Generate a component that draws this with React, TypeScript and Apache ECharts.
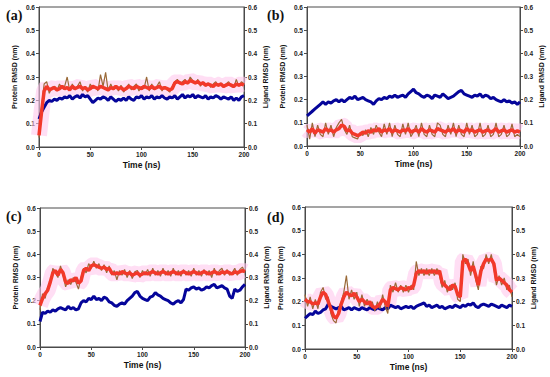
import React, { useEffect, useRef } from "react";
import * as echarts from "echarts";

const TIME_STEP = 2.5;
const PANEL_LABELS = ["(a)", "(b)", "(c)", "(d)"];
const X_TICKS = [0, 50, 100, 150, 200];

const A_PROT = [0.12,0.15,0.17,0.19,0.20,0.195,0.205,0.20,0.21,0.205,
 0.215,0.21,0.22,0.205,0.215,0.22,0.21,0.225,0.215,0.22,
 0.205,0.19,0.20,0.21,0.205,0.215,0.21,0.20,0.215,0.205,
 0.195,0.205,0.20,0.21,0.20,0.215,0.205,0.20,0.215,0.21,
 0.22,0.205,0.215,0.21,0.22,0.205,0.215,0.21,0.22,0.21,
 0.205,0.215,0.21,0.22,0.205,0.215,0.225,0.21,0.22,0.215,
 0.225,0.21,0.22,0.215,0.21,0.22,0.205,0.215,0.21,0.22,
 0.215,0.205,0.215,0.21,0.205,0.215,0.20,0.21,0.20,0.215,
 0.22];
const A_LIG = [0.05,0.15,0.24,0.26,0.245,0.25,0.255,0.245,0.25,0.26,
 0.25,0.255,0.245,0.26,0.25,0.255,0.26,0.25,0.255,0.245,
 0.25,0.26,0.255,0.25,0.26,0.255,0.25,0.245,0.255,0.25,
 0.26,0.25,0.255,0.245,0.25,0.26,0.255,0.25,0.26,0.255,
 0.25,0.26,0.255,0.25,0.26,0.25,0.255,0.26,0.25,0.255,
 0.25,0.245,0.25,0.275,0.28,0.275,0.27,0.28,0.275,0.285,
 0.28,0.275,0.28,0.27,0.275,0.265,0.27,0.265,0.26,0.27,
 0.265,0.27,0.26,0.265,0.27,0.265,0.26,0.27,0.265,0.27,
 0.265];
const A_LIG_RAW = [0.04,0.17,0.27,0.28,0.23,0.255,0.26,0.24,0.27,0.25,
 0.26,0.30,0.24,0.27,0.245,0.26,0.28,0.24,0.26,0.235,
 0.27,0.25,0.26,0.24,0.31,0.26,0.32,0.24,0.27,0.245,
 0.26,0.24,0.265,0.235,0.25,0.27,0.245,0.26,0.27,0.24,
 0.26,0.25,0.30,0.24,0.27,0.245,0.26,0.28,0.24,0.26,
 0.245,0.235,0.26,0.28,0.29,0.27,0.28,0.29,0.27,0.30,
 0.285,0.27,0.29,0.26,0.28,0.26,0.275,0.255,0.27,0.28,
 0.26,0.275,0.255,0.27,0.28,0.26,0.255,0.29,0.26,0.28,
 0.27];

const B_PROT = [0.13,0.14,0.15,0.16,0.17,0.18,0.19,0.18,0.19,0.185,
 0.195,0.20,0.19,0.20,0.19,0.20,0.21,0.205,0.215,0.20,
 0.205,0.21,0.20,0.195,0.19,0.18,0.195,0.205,0.20,0.21,
 0.205,0.215,0.21,0.22,0.21,0.215,0.22,0.21,0.225,0.235,
 0.245,0.23,0.225,0.215,0.21,0.22,0.215,0.205,0.22,0.215,
 0.21,0.225,0.215,0.205,0.21,0.215,0.225,0.235,0.24,0.225,
 0.22,0.215,0.21,0.22,0.215,0.225,0.21,0.22,0.215,0.205,
 0.21,0.20,0.195,0.19,0.20,0.19,0.195,0.185,0.19,0.18,
 0.19];
const B_LIG = [0.07,0.06,0.075,0.055,0.07,0.065,0.06,0.075,0.065,0.07,
 0.06,0.07,0.075,0.09,0.085,0.065,0.07,0.055,0.05,0.045,
 0.05,0.06,0.055,0.065,0.06,0.07,0.065,0.075,0.06,0.07,
 0.065,0.075,0.06,0.07,0.065,0.06,0.07,0.065,0.075,0.06,
 0.065,0.07,0.06,0.075,0.065,0.06,0.07,0.065,0.06,0.075,
 0.07,0.065,0.06,0.07,0.065,0.075,0.06,0.07,0.065,0.06,
 0.075,0.065,0.07,0.06,0.065,0.07,0.06,0.065,0.07,0.06,
 0.065,0.075,0.06,0.065,0.07,0.06,0.065,0.07,0.06,0.065,
 0.06];
const B_LIG_RAW = [0.09,0.03,0.10,0.04,0.09,0.05,0.04,0.10,0.05,0.09,
 0.04,0.08,0.10,0.115,0.07,0.05,0.09,0.04,0.035,0.03,
 0.06,0.045,0.07,0.04,0.08,0.05,0.09,0.06,0.04,0.095,
 0.05,0.10,0.04,0.09,0.05,0.04,0.095,0.05,0.10,0.04,
 0.06,0.09,0.04,0.10,0.05,0.04,0.09,0.05,0.04,0.10,
 0.09,0.05,0.04,0.09,0.05,0.10,0.04,0.09,0.05,0.04,
 0.10,0.05,0.09,0.04,0.05,0.10,0.04,0.05,0.09,0.04,
 0.05,0.10,0.04,0.05,0.09,0.04,0.05,0.095,0.04,0.05,
 0.04];

const C_PROT = [0.11,0.15,0.145,0.155,0.15,0.16,0.155,0.165,0.17,0.165,
 0.16,0.175,0.165,0.17,0.16,0.165,0.19,0.20,0.195,0.21,
 0.205,0.22,0.205,0.21,0.20,0.215,0.21,0.195,0.19,0.18,
 0.175,0.185,0.19,0.185,0.20,0.21,0.22,0.235,0.24,0.22,
 0.21,0.205,0.20,0.215,0.22,0.235,0.225,0.22,0.21,0.205,
 0.20,0.19,0.185,0.195,0.20,0.19,0.205,0.25,0.245,0.255,
 0.26,0.25,0.255,0.245,0.25,0.26,0.255,0.265,0.27,0.255,
 0.26,0.265,0.255,0.25,0.22,0.21,0.25,0.24,0.245,0.26,
 0.27];
const C_LIG = [0.18,0.21,0.23,0.245,0.28,0.32,0.33,0.31,0.335,0.32,
 0.28,0.275,0.29,0.285,0.30,0.275,0.285,0.33,0.34,0.33,
 0.35,0.355,0.35,0.345,0.34,0.345,0.335,0.34,0.32,0.315,
 0.32,0.315,0.325,0.32,0.315,0.32,0.31,0.315,0.32,0.31,
 0.315,0.32,0.315,0.32,0.325,0.32,0.315,0.32,0.325,0.32,
 0.315,0.32,0.325,0.32,0.315,0.32,0.325,0.32,0.315,0.32,
 0.325,0.32,0.315,0.32,0.325,0.32,0.315,0.32,0.325,0.32,
 0.315,0.325,0.32,0.325,0.32,0.315,0.325,0.32,0.325,0.33,
 0.325];
const C_LIG_RAW = [0.16,0.23,0.21,0.26,0.27,0.34,0.32,0.30,0.35,0.31,
 0.26,0.29,0.27,0.30,0.28,0.25,0.30,0.34,0.32,0.36,
 0.34,0.37,0.34,0.36,0.33,0.355,0.32,0.35,0.31,0.33,
 0.29,0.33,0.31,0.335,0.30,0.33,0.295,0.325,0.33,0.30,
 0.33,0.31,0.335,0.305,0.34,0.31,0.33,0.305,0.34,0.31,
 0.33,0.305,0.34,0.31,0.33,0.305,0.335,0.31,0.33,0.305,
 0.34,0.31,0.33,0.305,0.335,0.31,0.33,0.30,0.34,0.31,
 0.33,0.34,0.31,0.335,0.31,0.32,0.34,0.31,0.335,0.345,
 0.32];

const D_PROT = [0.13,0.14,0.15,0.145,0.16,0.15,0.155,0.165,0.17,0.19,
 0.18,0.175,0.17,0.175,0.18,0.165,0.17,0.175,0.165,0.175,
 0.17,0.165,0.175,0.17,0.165,0.175,0.17,0.165,0.175,0.17,
 0.165,0.175,0.17,0.185,0.18,0.175,0.18,0.17,0.175,0.18,
 0.175,0.18,0.17,0.18,0.185,0.19,0.195,0.18,0.185,0.175,
 0.18,0.185,0.175,0.18,0.17,0.175,0.18,0.175,0.185,0.18,
 0.175,0.185,0.18,0.19,0.185,0.195,0.18,0.175,0.185,0.19,
 0.185,0.18,0.19,0.185,0.18,0.175,0.185,0.18,0.175,0.185,
 0.18];
const D_LIG = [0.21,0.20,0.20,0.19,0.195,0.19,0.22,0.24,0.23,0.20,
 0.17,0.14,0.13,0.15,0.19,0.22,0.24,0.23,0.225,0.235,
 0.22,0.20,0.21,0.20,0.19,0.20,0.18,0.175,0.18,0.19,
 0.21,0.20,0.18,0.25,0.26,0.255,0.25,0.26,0.255,0.25,
 0.26,0.255,0.27,0.32,0.33,0.325,0.33,0.32,0.33,0.325,
 0.33,0.32,0.33,0.28,0.27,0.26,0.25,0.27,0.265,0.23,
 0.22,0.37,0.38,0.36,0.33,0.35,0.31,0.27,0.33,0.36,
 0.38,0.375,0.38,0.36,0.29,0.30,0.29,0.28,0.27,0.25,
 0.24];
const D_LIG_RAW = [0.23,0.18,0.22,0.17,0.21,0.17,0.24,0.26,0.21,0.22,
 0.15,0.12,0.11,0.17,0.20,0.24,0.31,0.21,0.25,0.21,
 0.24,0.18,0.23,0.18,0.21,0.18,0.20,0.16,0.20,0.17,
 0.23,0.18,0.15,0.27,0.24,0.28,0.24,0.27,0.24,0.27,
 0.24,0.27,0.25,0.37,0.31,0.34,0.31,0.34,0.31,0.34,
 0.31,0.34,0.31,0.26,0.29,0.24,0.27,0.25,0.28,0.21,
 0.20,0.40,0.36,0.38,0.31,0.37,0.29,0.25,0.35,0.34,
 0.40,0.36,0.40,0.34,0.27,0.31,0.27,0.30,0.25,0.27,
 0.22];

const PROTEIN = [A_PROT, B_PROT, C_PROT, D_PROT];
const LIGAND = [A_LIG, B_LIG, C_LIG, D_LIG];
const LIGAND_RAW = [A_LIG_RAW, B_LIG_RAW, C_LIG_RAW, D_LIG_RAW];

const GRIDS = [
  { left: 39, top: 7, width: 205, height: 140 },
  { left: 307, top: 7, width: 213, height: 139 },
  { left: 40, top: 208, width: 205, height: 139 },
  { left: 305, top: 207, width: 207, height: 142 },
];
const LABEL_POS = [
  [6, 8],
  [267, 8],
  [6, 209],
  [267, 210],
];

const FONT = "Liberation Sans, Arial, sans-serif";

function pairs(vals: number[]) {
  return vals.map((v, i) => [i * TIME_STEP, v]);
}

export default function App() {
  const ref = useRef<HTMLDivElement>(null);
  useEffect(() => {
    document.body.style.margin = "0";
    if (!ref.current) return;
    const chart = echarts.init(ref.current, null, { renderer: "svg" });
    const axisLine = { show: true, lineStyle: { color: "#4a4a4a", width: 1 } };
    const tickLabel = {
      fontSize: 6.5,
      fontWeight: "bold",
      color: "#222",
      fontFamily: FONT,
      margin: 4,
    };
    const xAxis: any[] = [];
    const yAxis: any[] = [];
    const series: any[] = [];
    GRIDS.forEach((_, i) => {
      xAxis.push({
        gridIndex: i,
        type: "value",
        min: X_TICKS[0],
        max: X_TICKS[X_TICKS.length - 1],
        interval: 50,
        name: "Time (ns)",
        nameLocation: "middle",
        nameGap: 13,
        nameTextStyle: { fontSize: 8.5, fontWeight: "bold", color: "#111", fontFamily: FONT },
        axisLine,
        axisTick: { show: true, length: 3, lineStyle: { color: "#4a4a4a" } },
        axisLabel: { ...tickLabel, margin: 4 },
        splitLine: { show: false },
      });
      ["left", "right"].forEach((pos) => {
        yAxis.push({
          gridIndex: i,
          type: "value",
          position: pos,
          min: 0,
          max: 0.6,
          interval: 0.1,
          name: pos === "left" ? "Protein RMSD (nm)" : "Ligand RMSD (nm)",
          nameLocation: "middle",
          nameGap: pos === "left" ? 21 : 18,
          nameTextStyle: { fontSize: 7, fontWeight: "bold", color: "#111", fontFamily: FONT },
          axisLine,
          axisTick: { show: true, length: 3, lineStyle: { color: "#4a4a4a" } },
          axisLabel: { ...tickLabel, formatter: (v: number) => v.toFixed(1) },
          splitLine: { show: false },
        });
      });
      const base = { type: "line", xAxisIndex: i, symbol: "none", silent: true, animation: false };
      series.push({
        ...base,
        yAxisIndex: 2 * i + 1,
        data: pairs(LIGAND[i]),
        lineStyle: { color: "rgba(255,200,236,0.6)", width: 16 },
        z: 1,
      });
      series.push({
        ...base,
        yAxisIndex: 2 * i,
        data: pairs(PROTEIN[i]),
        lineStyle: { color: "#05059a", width: 3 },
        z: 2,
      });
      series.push({
        ...base,
        yAxisIndex: 2 * i + 1,
        data: pairs(LIGAND_RAW[i]),
        lineStyle: { color: "#9a6a38", width: 1.2 },
        z: 3,
      });
      series.push({
        ...base,
        yAxisIndex: 2 * i + 1,
        data: pairs(LIGAND[i]),
        lineStyle: { color: "#f2382a", width: 3.5 },
        z: 4,
      });
    });
    chart.setOption({
      animation: false,
      backgroundColor: "#ffffff",
      grid: GRIDS.map((g) => ({ ...g, show: true, borderColor: "#4a4a4a", borderWidth: 1 })),
      xAxis,
      yAxis,
      series,
      graphic: PANEL_LABELS.map((t, i) => ({
        type: "text",
        left: LABEL_POS[i][0],
        top: LABEL_POS[i][1],
        style: {
          text: t,
          font: "bold 14px 'Liberation Serif', 'Times New Roman', serif",
          fill: "#111",
        },
      })),
    });
    return () => chart.dispose();
  }, []);
  return <div ref={ref} style={{ width: 550, height: 377 }} />;
}
